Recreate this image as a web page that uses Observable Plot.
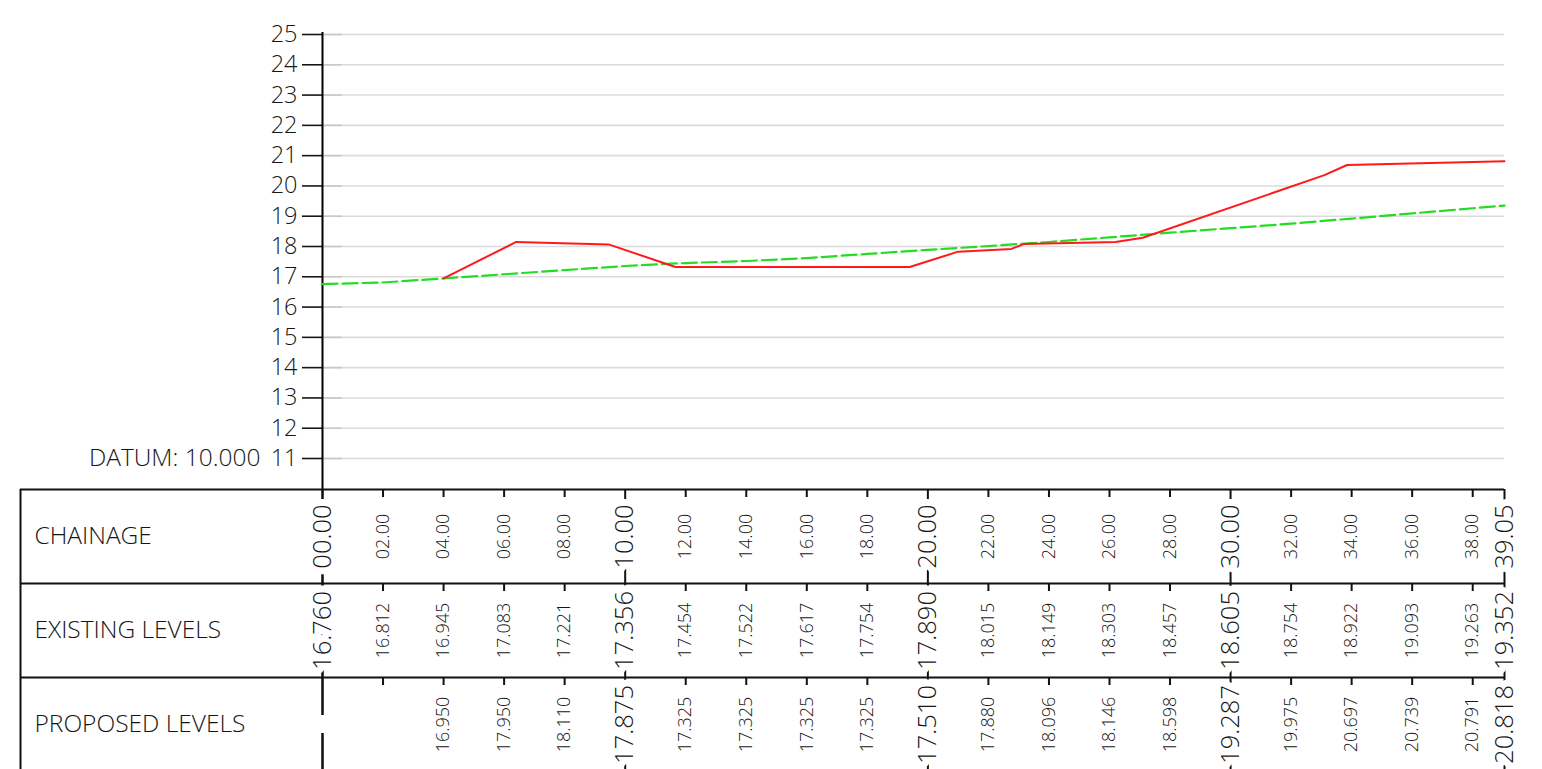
<!DOCTYPE html>
<html>
<head>
<meta charset="utf-8">
<script src="https://cdn.jsdelivr.net/npm/d3@7"></script>
<script src="https://cdn.jsdelivr.net/npm/@observablehq/plot@0.6"></script>
<style>
  html, body { margin: 0; padding: 0; background: #fff; overflow: hidden; }
  #chart svg { display: block; }
</style>
</head>
<body>
<div id="chart"></div>
<script>
// ---------- data ----------
const chainage = [0, 2, 4, 6, 8, 10, 12, 14, 16, 18, 20, 22, 24, 26, 28, 30, 32, 34, 36, 38, 39.05];
const chainageLabels = ["00.00","02.00","04.00","06.00","08.00","10.00","12.00","14.00","16.00","18.00","20.00",
  "22.00","24.00","26.00","28.00","30.00","32.00","34.00","36.00","38.00","39.05"];
const existingLevels = [16.760,16.812,16.945,17.083,17.221,17.356,17.454,17.522,17.617,17.754,17.890,
  18.015,18.149,18.303,18.457,18.605,18.754,18.922,19.093,19.263,19.352];
const proposedLevels = [null,null,16.950,17.950,18.110,17.875,17.325,17.325,17.325,17.325,17.510,
  17.880,18.096,18.146,18.598,19.287,19.975,20.697,20.739,20.791,20.818];
// proposed profile break points (chainage, level) as drawn
const designChainage = [4.0, 6.4, 9.45, 11.66, 19.4, 21.0, 22.76, 23.16, 26.2, 27.1, 33.1, 33.85, 39.05];
const designLevel    = [16.95, 18.15, 18.07, 17.325, 17.325, 17.83, 17.92, 18.08, 18.15, 18.288, 20.355, 20.69, 20.818];
const yTicks = [11,12,13,14,15,16,17,18,19,20,21,22,23,24,25];
const rowNames = ["CHAINAGE", "EXISTING LEVELS", "PROPOSED LEVELS"];
const datumLabel = "DATUM: 10.000";

// ---------- layout (pixels) ----------
const W = 1542, H = 769;
const mL = 322, mR = 38, mT = 34, mB = 311;
const xS = d3.scaleLinear().domain([0, 39.05]).range([mL, W - mR]);
const yS = d3.scaleLinear().domain([11, 25]).range([H - mB, mT]);
const xi = px => xS.invert(px);
const yi = py => yS.invert(py);
const rowTopPx = [489, 583, 677];
const rowH = 94;
const tableLeft = xi(20);
const tableBottom = yi(H + 2);
const xEnd = 39.05;
const font = "'Open Sans', sans-serif";
const ink = "#161616";
const fw = 350;

const isMajor = (c, i) => c % 10 === 0 || i === chainage.length - 1;

// table cells
const cells = [];
const blanks = [];
chainage.forEach((c, i) => {
  const major = isMajor(c, i);
  cells.push({ch: c, row: 0, text: chainageLabels[i], major});
  cells.push({ch: c, row: 1, text: existingLevels[i].toFixed(3), major});
  if (proposedLevels[i] != null) cells.push({ch: c, row: 2, text: proposedLevels[i].toFixed(3), major});
  else if (major) blanks.push({ch: c, y1: yi(rowTopPx[2] + rowH / 2 - 9), y2: yi(rowTopPx[2] + rowH / 2 + 9)});
});
cells.forEach(d => d.y = yi(rowTopPx[d.row] + rowH / 2));

const minorTicks = [];
chainage.forEach((c, i) => {
  if (!isMajor(c, i)) rowTopPx.forEach(t => minorTicks.push({ch: c, y1: yi(t), y2: yi(t + 8)}));
});
const majors = chainage.filter(isMajor);

const existingData = chainage.map((c, i) => ({ch: c, v: existingLevels[i]}));
const designData = designChainage.map((c, i) => ({ch: c, v: designLevel[i]}));

const plot = Plot.plot({
  width: W, height: H,
  marginLeft: mL, marginRight: mR, marginTop: mT, marginBottom: mB,
  x: {domain: [0, 39.05], axis: null},
  y: {domain: [11, 25], axis: null},
  style: {fontFamily: font, background: "#fff", color: ink, overflow: "visible"},
  marks: [
    // gridlines
    Plot.ruleY(yTicks, {x1: 0, x2: xEnd, stroke: "#dcdcdc", strokeWidth: 1.6}),
    Plot.ruleY(yTicks, {x1: 0, x2: xi(mL + 20), stroke: "#c8c8c8", strokeWidth: 1.6}),
    // y axis
    Plot.axisY(yTicks, {anchor: "left", tickSize: 20, tickPadding: 5, fontSize: 23.5, fontWeight: fw, stroke: ink, strokeWidth: 1.6, label: null}),
    Plot.ruleX([0], {y1: yi(32), y2: tableBottom, stroke: "#000", strokeWidth: 2}),
    Plot.text([datumLabel], {x: 0, y: 11, dx: -62, textAnchor: "end", lineAnchor: "middle", fontSize: 24.5, fontWeight: fw, fill: ink}),
    // profile lines
    Plot.line(existingData, {x: "ch", y: "v", stroke: "#22dd22", strokeWidth: 2.2, strokeDasharray: "15,5"}),
    Plot.line(designData, {x: "ch", y: "v", stroke: "#ff1a1a", strokeWidth: 2}),
    // table frame
    Plot.ruleY(rowTopPx.map(yi), {x1: tableLeft, x2: xEnd, stroke: "#111", strokeWidth: 2}),
    Plot.ruleX([tableLeft], {y1: yi(rowTopPx[0]), y2: tableBottom, stroke: "#111", strokeWidth: 2}),
    Plot.ruleX(majors, {y1: yi(rowTopPx[0]), y2: tableBottom, stroke: "#111", strokeWidth: 2}),
    Plot.ruleX(minorTicks, {x: "ch", y1: "y1", y2: "y2", stroke: "#111", strokeWidth: 2}),
    Plot.ruleX(blanks, {x: "ch", y1: "y1", y2: "y2", stroke: "#fff", strokeWidth: 5}),
    Plot.text(rowNames, {x: tableLeft, dx: 14, y: (d, i) => yi(rowTopPx[i] + rowH / 2), textAnchor: "start", lineAnchor: "middle", fontSize: 24.5, fontWeight: fw, fill: ink}),
    // cell labels
    Plot.text(cells.filter(d => !d.major), {x: "ch", y: "y", text: "text", rotate: -90, textAnchor: "middle", lineAnchor: "middle", fontSize: 18, fontWeight: fw, fill: ink}),
    Plot.text(cells.filter(d => d.major), {x: "ch", y: "y", text: "text", rotate: -90, textAnchor: "middle", lineAnchor: "middle", fontSize: 25.5, fontWeight: fw, fill: ink, stroke: "#fff", strokeWidth: 14, strokeLinejoin: "round", paintOrder: "stroke"})
  ]
});
document.getElementById("chart").appendChild(plot);
</script>
</body>
</html>
